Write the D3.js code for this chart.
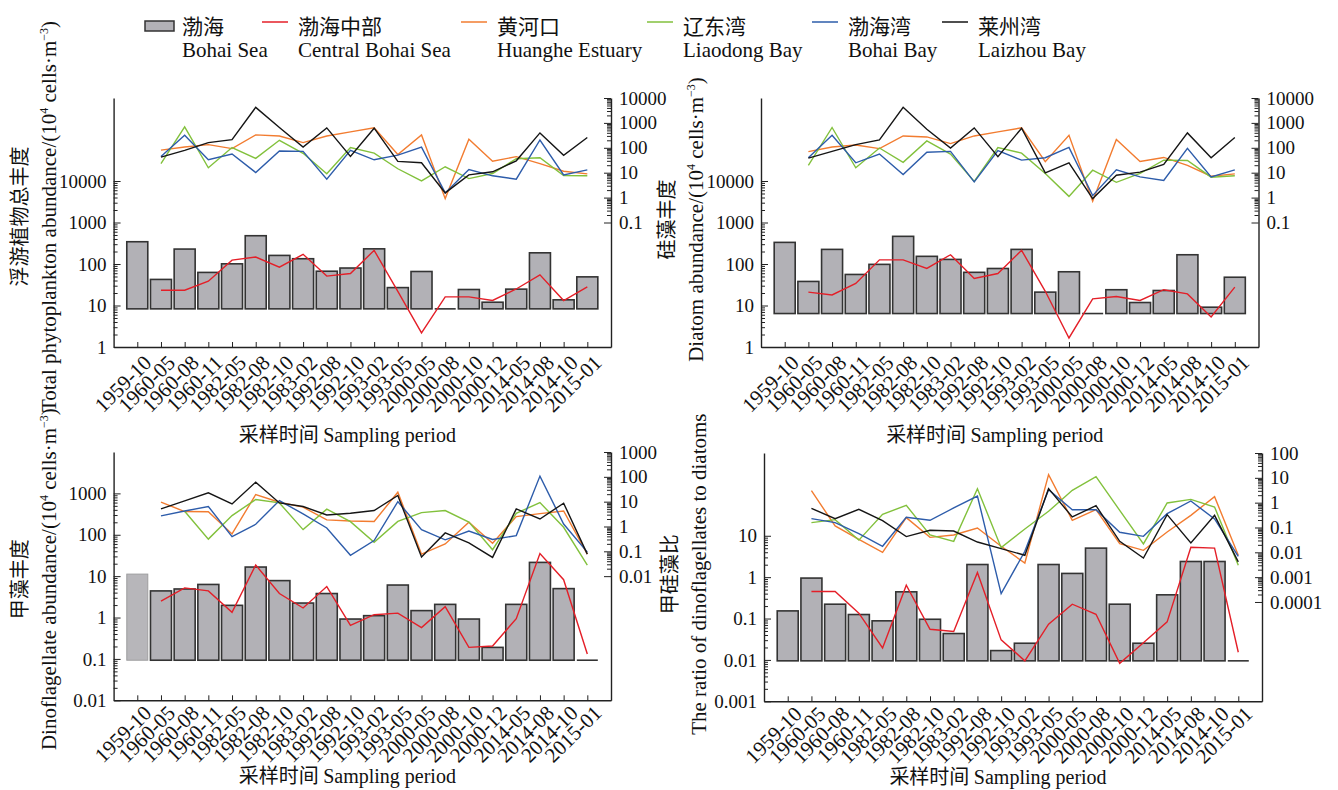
<!DOCTYPE html>
<html>
<head>
<meta charset="utf-8">
<script src="https://cdn.jsdelivr.net/npm/d3@7"></script>
<style>
  body { margin: 0; background: #fff; }
  svg text { font-family: "Liberation Serif", "Times New Roman", serif; fill: #111; }
  svg .cjk { font-family: "Noto Sans CJK SC", sans-serif; }
</style>
</head>
<body>
<svg id="chart" width="1338" height="790"></svg>
<script>
// Sampling periods (x categories)
const periods = ["1959-10", "1960-05", "1960-08", "1960-11", "1982-05", "1982-08", "1982-10",
  "1983-02", "1992-08", "1992-10", "1993-02", "1993-05", "2000-05", "2000-08", "2000-10",
  "2000-12", "2014-05", "2014-08", "2014-10", "2015-01"];

// Legend entries
const seriesNamesZh = ["渤海", "渤海中部", "黄河口", "辽东湾", "渤海湾", "莱州湾"];
const seriesNamesEn = ["Bohai Sea", "Central Bohai Sea", "Huanghe Estuary", "Liaodong Bay", "Bohai Bay", "Laizhou Bay"];

// Total phytoplankton abundance (10^4 cells/m3); 0 = not detected
const totalBohai    = [344, 42.5, 229, 62.7, 101, 480, 161, 134, 67, 80, 232, 27, 66, 0, 24.3, 12, 24.8, 186, 13.7, 49];
const totalCentral  = [null, 23.4, 23.4, 38.6, 124, 147, 84, 171, 51, 59, 213, 22, 2.2, 16.1, 16.1, 13.2, 25, 55, 13.2, 28];
const totalHuanghe  = [null, 81, 107, 134, 93, 329, 299, 162, 299, 434, 631, 54, 329, 0.91, 220, 29, 44, 23, 11.5, 9];
const totalLiaodong = [null, 23, 692, 15.8, 102, 37.6, 200, 60, 9, 102, 61.5, 14.4, 4.7, 17.3, 5.8, 9.3, 36.5, 40, 7.7, 7.5];
const totalBohaiBay = [null, 45, 319, 33, 56, 10.2, 74, 72, 5.5, 79, 33, 51, 107, 1.54, 13.5, 7.5, 5.5, 206, 8.2, 13];
const totalLaizhou  = [null, 42, 79, 162, 214, 4210, 654, 107, 631, 45, 612, 28.4, 25, 1.54, 8.2, 10.9, 30, 396, 50, 259];

// Diatom abundance
const diatomBohai    = [332, 38, 225, 56, 98, 464, 153, 129, 63, 78, 225, 21, 65, 0, 24, 11.8, 23, 167, 9.1, 48];
const diatomCentral  = [null, 21, 18, 34, 126, 126, 78, 167, 45, 59, 213, 22, 1.65, 14.4, 16.5, 13.2, 24, 19, 5.3, 27.7];
const diatomHuanghe  = [null, 70, 107, 129, 93, 299, 273, 147, 299, 434, 631, 27.6, 319, 0.71, 214, 28.4, 41, 19.6, 7.2, 9];
const diatomLiaodong = [null, 19.6, 654, 15.8, 98, 26, 188, 56, 4.5, 102, 61, 9.3, 1.12, 12.6, 4.1, 9.3, 32, 31, 6.6, 7.5];
const diatomBohaiBay = [null, 40, 319, 25, 56, 8.5, 66, 72, 4.3, 77, 32, 40, 104, 1.2, 13, 6.8, 4.9, 95, 6.8, 13];
const diatomLaizhou  = [null, 38.6, 72, 134, 206, 4210, 558, 98, 631, 44, 612, 9.9, 25, 0.91, 7.9, 10.5, 21.5, 396, 40, 259];

// Dinoflagellate abundance
const dinoBohai    = [11.2, 4.4, 4.9, 6.3, 1.97, 16.6, 7.8, 2.24, 3.8, 0.92, 1.11, 6.1, 1.47, 2.08, 0.92, 0.19, 2.08, 21.5, 5.0, 0];
const dinoCentral  = [null, 2.5, 5.2, 4.4, 1.34, 18.5, 3.8, 1.7, 5.6, 0.65, 1.17, 1.28, 0.57, 1.83, 0.19, 0.205, 0.94, 35, 8.2, 0.131];
const dinoHuanghe  = [null, 9.5, 4.0, 3.9, 0.5, 19.4, 9.5, 6.0, 1.84, 1.67, 1.6, 24, 0.077, 0.197, 1.48, 0.21, 2.5, 3.3, 4.2, 0.077];
const dinoLiaodong = [null, null, 4.1, 0.31, 2.75, 12.2, 8.9, 0.75, 5, 1.57, 0.23, 1.6, 3.6, 4.4, 1.5, 0.116, 3.4, 9.2, 0.93, 0.028];
const dinoBohaiBay = [null, 2.67, 4.2, 6.4, 0.39, 1.23, 11.1, 3.2, 0.87, 0.069, 0.27, 10, 0.75, 0.29, 0.66, 0.3, 0.43, 107, 1.26, 0.093];
const dinoLaizhou  = [null, 5.1, 10.8, 22.7, 8.1, 61, 8.9, 6.4, 2.9, 3.4, 4.4, 17.7, 0.059, 0.55, 0.22, 0.057, 5.1, 2.0, 8.7, 0.077];

// Ratio of dinoflagellates to diatoms
const ratioBohai    = [0.153, 0.95, 0.222, 0.125, 0.088, 0.442, 0.096, 0.0434, 2.02, 0.0168, 0.0253, 2.02, 1.23, 5.03, 0.222, 0.0253, 0.374, 2.39, 2.39, 0];
const ratioCentral  = [null, 0.45, 0.45, 0.135, 0.0195, 0.64, 0.055, 0.0485, 1.3, 0.0305, 0.0095, 0.073, 0.222, 0.127, 0.0083, 0.026, 0.083, 5.3, 5.03, 0.0153];
const ratioHuanghe  = [null, 3.04, 0.115, 0.033, 0.01, 0.249, 0.040, 0.05, 0.095, 0.0175, 0.0037, 13.4, 0.195, 0.52, 0.0223, 0.012, 0.066, 0.309, 1.75, 0.0076];
const ratioLiaodong = [null, 0.157, 0.207, 0.031, 0.339, 0.78, 0.05, 0.0277, 3.66, 0.0154, 0.087, 0.448, 3.14, 11.1, 0.49, 0.0217, 0.97, 1.36, 0.67, 0.003];
const ratioBohaiBay = [null, 0.227, 0.157, 0.0565, 0.0175, 0.257, 0.195, 0.61, 1.85, 0.000217, 0.011, 3.34, 0.52, 0.52, 0.064, 0.044, 0.36, 1.17, 0.22, 0.0069];
const ratioLaizhou  = [null, 0.59, 0.227, 0.54, 0.188, 0.043, 0.077, 0.072, 0.026, 0.014, 0.0076, 3.66, 0.265, 0.757, 0.0277, 0.0059, 0.33, 0.0238, 0.309, 0.0041];

// Axis tick labels
const abundLeftTicks  = [1, 10, 100, 1000, 10000];
const abundRightTicks = [0.1, 1, 10, 100, 1000, 10000];
const dinoLeftTicks   = [0.01, 0.1, 1, 10, 100, 1000];
const dinoRightTicks  = [0.01, 0.1, 1, 10, 100, 1000];
const ratioLeftTicks  = [0.001, 0.01, 0.1, 1, 10];
const ratioRightTicks = [0.0001, 0.001, 0.01, 0.1, 1, 10, 100];

const colors = { central: "#e41f28", huanghe: "#f27c30", liaodong: "#82c13c", bohaiBay: "#2d5caa", laizhou: "#151515" };
const barFill = "#b2b1b6", barStroke = "#333";

const svg = d3.select("#chart");
const fmt = d3.format("~g");

function logMinor(lo, hi) {
  const out = [];
  for (let e = Math.round(Math.log10(lo)); e < Math.round(Math.log10(hi)); e++)
    for (let k = 2; k <= 9; k++) out.push(k * Math.pow(10, e));
  return out;
}

const panels = [
  { left: 113.6, right: 611, top: 98, bottom: 347, leftDomain: [1, 1e6], rightDomain: [1e-6, 1e4],
    leftTicks: abundLeftTicks, rightTicks: abundRightTicks, base: 8.3, titleGap: 95, titleShift: -6, labelDrop: 17,
    bars: totalBohai, central: totalCentral,
    others: [[totalHuanghe, colors.huanghe], [totalLiaodong, colors.liaodong], [totalBohaiBay, colors.bohaiBay], [totalLaizhou, colors.laizhou]],
    titleZh: "浮游植物总丰度", titleEn: "Total phytoplankton abundance/(10", unit: true, faint: [] },
  { left: 761, right: 1258.5, top: 98, bottom: 347, leftDomain: [1, 1e6], rightDomain: [1e-6, 1e4],
    leftTicks: abundLeftTicks, rightTicks: abundRightTicks, base: 6.4, titleGap: 95, titleShift: -3, labelDrop: 17,
    bars: diatomBohai, central: diatomCentral,
    others: [[diatomHuanghe, colors.huanghe], [diatomLiaodong, colors.liaodong], [diatomBohaiBay, colors.bohaiBay], [diatomLaizhou, colors.laizhou]],
    titleZh: "硅藻丰度", titleEn: "Diatom abundance/(10", unit: true, faint: [] },
  { left: 113.6, right: 611, top: 452, bottom: 700.3, leftDomain: [0.01, 1e4], rightDomain: [1e-7, 1e3],
    leftTicks: dinoLeftTicks, rightTicks: dinoRightTicks, base: 0.093, titleGap: 83, titleShift: 3, labelDrop: 14,
    bars: dinoBohai, central: dinoCentral,
    others: [[dinoHuanghe, colors.huanghe], [dinoLiaodong, colors.liaodong], [dinoBohaiBay, colors.bohaiBay], [dinoLaizhou, colors.laizhou]],
    titleZh: "甲藻丰度", titleEn: "Dinoflagellate abundance/(10", unit: true, faint: [0] },
  { left: 764, right: 1262, top: 453, bottom: 701.3, leftDomain: [0.001, 1000], rightDomain: [1e-8, 100],
    leftTicks: ratioLeftTicks, rightTicks: ratioRightTicks, base: 0.0095, titleGap: 83, titleShift: -3, labelDrop: 14,
    bars: ratioBohai, central: ratioCentral,
    others: [[ratioHuanghe, colors.huanghe], [ratioLiaodong, colors.liaodong], [ratioBohaiBay, colors.bohaiBay], [ratioLaizhou, colors.laizhou]],
    titleZh: "甲硅藻比", titleEn: "The ratio of dinoflagellates to diatoms", unit: false, faint: [] }
];

function drawPanel(p) {
  const g = svg.append("g");
  const x = d3.scalePoint().domain(periods).range([p.left, p.right]).padding(1);
  const yL = d3.scaleLog().domain(p.leftDomain).range([p.bottom, p.top]);
  const yR = d3.scaleLog().domain(p.rightDomain).range([p.bottom, p.top]);
  const barW = 21;

  const barData = periods.map((d, i) => ({ period: d, v: p.bars[i], faint: p.faint.includes(i) }));

  // bars standing on the baseline
  g.append("g").selectAll("rect")
    .data(barData.filter(d => d.v > 0))
    .join("rect")
    .attr("x", d => x(d.period) - barW / 2)
    .attr("width", barW)
    .attr("y", d => yL(d.v))
    .attr("height", d => yL(p.base) - yL(d.v))
    .attr("fill", d => d.faint ? "#b7b6ba" : barFill)
    .attr("stroke", d => d.faint ? "#9d9d9f" : barStroke)
    .attr("stroke-width", d => d.faint ? 1 : 1.6);

  // undetected periods: flat outline on the baseline
  g.append("g").selectAll("line")
    .data(barData.filter(d => !(d.v > 0)))
    .join("line")
    .attr("x1", d => x(d.period) - barW / 2)
    .attr("x2", d => x(d.period) + barW / 2)
    .attr("y1", yL(p.base)).attr("y2", yL(p.base))
    .attr("stroke", barStroke).attr("stroke-width", 1.6);

  const lineL = d3.line().defined(d => d.v != null).x(d => x(d.period)).y(d => yL(d.v));
  const lineR = d3.line().defined(d => d.v != null).x(d => x(d.period)).y(d => yR(d.v));
  const asPts = arr => periods.map((d, i) => ({ period: d, v: arr[i] }));

  p.others.forEach(([arr, col]) => {
    g.append("path").attr("d", lineR(asPts(arr)))
      .attr("fill", "none").attr("stroke", col).attr("stroke-width", 1.4);
  });
  g.append("path").attr("d", lineL(asPts(p.central)))
    .attr("fill", "none").attr("stroke", colors.central).attr("stroke-width", 1.4);

  // left axis
  const lMin = p.leftTicks[0], lMax = p.leftTicks[p.leftTicks.length - 1];
  const rMin = p.rightTicks[0], rMax = p.rightTicks[p.rightTicks.length - 1];
  g.append("g").attr("transform", `translate(${p.left},0)`)
    .call(d3.axisLeft(yL).tickValues(p.leftTicks).tickFormat(fmt).tickSize(-7).tickSizeOuter(0).tickPadding(7));
  g.append("g").attr("transform", `translate(${p.left},0)`)
    .call(d3.axisLeft(yL).tickValues(logMinor(lMin, lMax)).tickFormat("").tickSize(-4).tickSizeOuter(0))
    .call(s => s.select(".domain").remove());

  // right axis
  g.append("g").attr("transform", `translate(${p.right},0)`)
    .call(d3.axisRight(yR).tickValues(p.rightTicks).tickFormat(fmt).tickSize(-7).tickSizeOuter(0).tickPadding(8));
  g.append("g").attr("transform", `translate(${p.right},0)`)
    .call(d3.axisRight(yR).tickValues(logMinor(rMin, rMax)).tickFormat("").tickSize(-4).tickSizeOuter(0))
    .call(s => s.select(".domain").remove());

  // bottom axis
  const axB = g.append("g").attr("transform", `translate(0,${p.bottom})`)
    .call(d3.axisBottom(x).tickSize(-5).tickSizeOuter(0));

  g.selectAll(".domain").attr("stroke", "#222").attr("stroke-width", 1.4);
  g.selectAll(".tick line").attr("stroke", "#222").attr("stroke-width", 1);
  g.selectAll(".tick text").attr("font-size", 19).attr("fill", "#111")
    .attr("font-family", "Liberation Serif, Times New Roman, serif");

  axB.selectAll(".tick text")
    .attr("x", 0).attr("y", 0).attr("dy", null)
    .attr("text-anchor", "end")
    .attr("font-size", 21)
    .attr("transform", `translate(15,${p.labelDrop}) rotate(-45)`);

  // y-axis title (two lines: Chinese above English)
  const cy = (p.top + p.bottom) / 2 + p.titleShift;
  g.append("text").attr("class", "cjk")
    .attr("transform", `translate(${p.left - 94},${cy}) rotate(-90)`)
    .attr("text-anchor", "middle").attr("dy", "0.35em").attr("font-size", 20)
    .text(p.titleZh);
  const en = g.append("text")
    .attr("transform", `translate(${p.left - 65},${cy}) rotate(-90)`)
    .attr("text-anchor", "middle").attr("dy", "0.35em").attr("font-size", 21);
  en.append("tspan").text(p.titleEn);
  if (p.unit) {
    en.append("tspan").attr("font-size", 12).attr("dy", -8).text("4");
    en.append("tspan").attr("dy", 8).text(" cells·m");
    en.append("tspan").attr("font-size", 12).attr("dy", -8).text("−3");
    en.append("tspan").attr("dy", 8).text(")");
  }

  // x-axis title
  const xt = g.append("text")
    .attr("x", (p.left + p.right) / 2 - 15).attr("y", p.bottom + p.titleGap)
    .attr("text-anchor", "middle").attr("font-size", 20);
  xt.append("tspan").attr("class", "cjk").text("采样时间 ");
  xt.append("tspan").text("Sampling period");
}

panels.forEach(drawPanel);

// legend
const legendX = [182, 298, 497, 683, 848, 978];
const legendColors = [null, colors.central, colors.huanghe, colors.liaodong, colors.bohaiBay, colors.laizhou];
const lg = svg.append("g");
seriesNamesZh.forEach((name, i) => {
  const tx = legendX[i];
  if (i === 0) {
    lg.append("rect").attr("x", tx - 37).attr("y", 21).attr("width", 29).attr("height", 10)
      .attr("fill", barFill).attr("stroke", barStroke).attr("stroke-width", 1.5);
  } else {
    lg.append("line").attr("x1", tx - 36).attr("x2", tx - 10).attr("y1", 22).attr("y2", 22)
      .attr("stroke", legendColors[i]).attr("stroke-width", 1.5);
  }
  lg.append("text").attr("class", "cjk").attr("x", tx).attr("y", 34).attr("font-size", 21).text(name);
  lg.append("text").attr("x", tx).attr("y", 57).attr("font-size", 21).text(seriesNamesEn[i]);
});
</script>
</body>
</html>
